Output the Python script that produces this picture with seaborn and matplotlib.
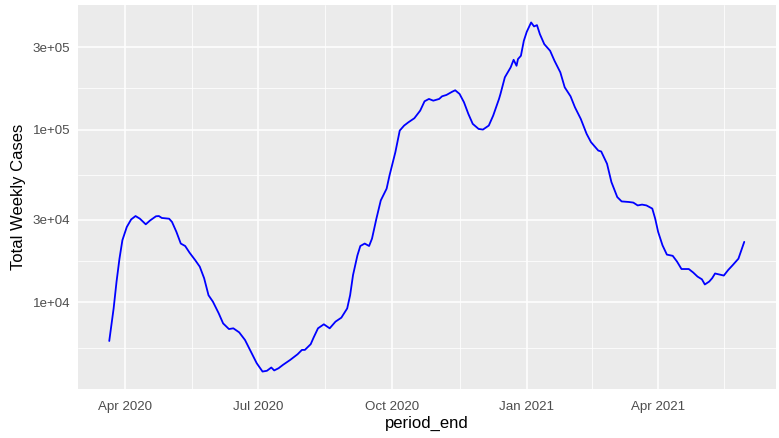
import matplotlib
matplotlib.use("Agg")
import matplotlib.pyplot as plt
import matplotlib.ticker as mticker
import matplotlib.dates as mdates
import numpy as np
import pandas as pd
import seaborn as sns

# Rolling weekly case totals, by reporting period end date
period_end = [
    "2020-03-21", "2020-03-24", "2020-03-26", "2020-03-28", "2020-03-30",
    "2020-04-02", "2020-04-05", "2020-04-08", "2020-04-11", "2020-04-15",
    "2020-04-18", "2020-04-22", "2020-04-24", "2020-04-26", "2020-05-01",
    "2020-05-03", "2020-05-06", "2020-05-09", "2020-05-12", "2020-05-15",
    "2020-05-19", "2020-05-22", "2020-05-25", "2020-05-28", "2020-05-31",
    "2020-06-04", "2020-06-07", "2020-06-11", "2020-06-14", "2020-06-18",
    "2020-06-22", "2020-06-26", "2020-06-30", "2020-07-04", "2020-07-07",
    "2020-07-10", "2020-07-12", "2020-07-15", "2020-07-18", "2020-07-23",
    "2020-07-28", "2020-07-31", "2020-08-02", "2020-08-06", "2020-08-08",
    "2020-08-11", "2020-08-15", "2020-08-19", "2020-08-23", "2020-08-27",
    "2020-08-31", "2020-09-02", "2020-09-04", "2020-09-07", "2020-09-09",
    "2020-09-12", "2020-09-15", "2020-09-17", "2020-09-20", "2020-09-23",
    "2020-09-27", "2020-09-29", "2020-10-03", "2020-10-06", "2020-10-09",
    "2020-10-12", "2020-10-16", "2020-10-20", "2020-10-23", "2020-10-26",
    "2020-10-29", "2020-11-02", "2020-11-04", "2020-11-07", "2020-11-11",
    "2020-11-13", "2020-11-16", "2020-11-19", "2020-11-22", "2020-11-25",
    "2020-11-29", "2020-12-02", "2020-12-06", "2020-12-09", "2020-12-13",
    "2020-12-14", "2020-12-17", "2020-12-21", "2020-12-23", "2020-12-25",
    "2020-12-26", "2020-12-28", "2020-12-30", "2021-01-01", "2021-01-04",
    "2021-01-06", "2021-01-08", "2021-01-10", "2021-01-13", "2021-01-17",
    "2021-01-20", "2021-01-24", "2021-01-27", "2021-01-31", "2021-02-03",
    "2021-02-07", "2021-02-11", "2021-02-14", "2021-02-19", "2021-02-21",
    "2021-02-25", "2021-02-28", "2021-03-04", "2021-03-07", "2021-03-12",
    "2021-03-15", "2021-03-18", "2021-03-21", "2021-03-24", "2021-03-28",
    "2021-03-30", "2021-04-01", "2021-04-04", "2021-04-07", "2021-04-11",
    "2021-04-14", "2021-04-17", "2021-04-22", "2021-04-25", "2021-04-28",
    "2021-05-01", "2021-05-03", "2021-05-06", "2021-05-08", "2021-05-10",
    "2021-05-13", "2021-05-16", "2021-05-19", "2021-05-22", "2021-05-26",
    "2021-05-28", "2021-05-30",
]
weekly_cases = [
    5980, 9230, 13200, 17900, 22900,
    27300, 30200, 31600, 30500, 28300,
    29800, 31500, 31600, 30800, 30500,
    29200, 25600, 21900, 21200, 19400,
    17500, 16100, 13800, 11000, 10100,
    8640, 7560, 7010, 7080, 6710,
    6060, 5190, 4450, 3980, 4020,
    4200, 4040, 4160, 4350, 4650,
    5010, 5310, 5310, 5730, 6260,
    7080, 7470, 7080, 7740, 8160,
    9230, 11000, 14400, 18700, 21200,
    21900, 21200, 23400, 30500, 38900,
    45500, 54300, 74000, 98700, 105500,
    110300, 116300, 128700, 145800, 150400,
    147000, 150400, 155800, 158600, 165700,
    168800, 160700, 143900, 123200, 107900,
    100900, 100000, 105500, 120400, 150400,
    160700, 200600, 229200, 253400, 234000,
    255900, 267300, 326300, 367800, 416700,
    395200, 402100, 356700, 312200, 285700,
    250200, 214400, 175700, 155800, 134700,
    115300, 94500, 84600, 75600, 74700,
    63400, 49700, 40700, 38400, 38100,
    37800, 36400, 36800, 36400, 34900,
    30500, 25600, 21400, 18900, 18600,
    17200, 15600, 15600, 14900, 14100,
    13600, 12700, 13200, 13800, 14700,
    14500, 14300, 15400, 16400, 17900,
    20000, 22400,
]

y_breaks = [1e4, 3e4, 1e5, 3e5]
y_labels = ["1e+04", "3e+04", "1e+05", "3e+05"]
x_breaks = ["2020-04-01", "2020-07-01", "2020-10-01", "2021-01-01", "2021-04-01"]
x_labels = ["Apr 2020", "Jul 2020", "Oct 2020", "Jan 2021", "Apr 2021"]

df = pd.DataFrame({"period_end": pd.to_datetime(period_end),
                   "weekly_cases": weekly_cases})

sns.set_theme(style="darkgrid", rc={
    "axes.facecolor": "#EBEBEB",
    "grid.color": "white",
    "axes.edgecolor": "#EBEBEB",
    "axes.linewidth": 0,
    "figure.facecolor": "white",
})
plt.rcParams["font.family"] = ["Liberation Sans", "DejaVu Sans"]

fig = plt.figure(figsize=(7.79, 4.38), dpi=100)
ax = fig.add_axes([77.5 / 779, 1 - 389 / 438, (776 - 77.5) / 779, (389 - 5) / 438])

sns.lineplot(data=df, x="period_end", y="weekly_cases", color="#0000FF",
             linewidth=1.3, ax=ax, zorder=3)

ax.set_yscale("log")

# ggplot-style 5% expansion of the data range (log space for y)
lo, hi = np.log10(min(weekly_cases)), np.log10(max(weekly_cases))
pad = 0.05 * (hi - lo)
ax.set_ylim(10 ** (lo - pad), 10 ** (hi + pad))

xd = mdates.date2num(df["period_end"])
xpad = 0.05 * (xd.max() - xd.min())
ax.set_xlim(xd.min() - xpad, xd.max() + xpad)

# major breaks and labels
ax.yaxis.set_major_locator(mticker.FixedLocator(y_breaks))
ax.yaxis.set_major_formatter(mticker.FixedFormatter(y_labels))
xb = mdates.date2num(pd.to_datetime(x_breaks))
ax.xaxis.set_major_locator(mticker.FixedLocator(xb))
ax.xaxis.set_major_formatter(mticker.FixedFormatter(x_labels))

# minor grid halfway between major breaks
ylog = np.log10([3e3] + y_breaks + [1e6])
ax.yaxis.set_minor_locator(mticker.FixedLocator(10 ** ((ylog[:-1] + ylog[1:]) / 2)))
xb_ext = np.concatenate([[xb[0] - (xb[1] - xb[0])], xb, [xb[-1] + (xb[-1] - xb[-2])]])
ax.xaxis.set_minor_locator(mticker.FixedLocator((xb_ext[:-1] + xb_ext[1:]) / 2))
ax.yaxis.set_minor_formatter(mticker.NullFormatter())
ax.xaxis.set_minor_formatter(mticker.NullFormatter())

ax.grid(which="major", color="white", linewidth=1.1)
ax.grid(which="minor", color="white", linewidth=0.55)
ax.set_axisbelow(True)
for s in ax.spines.values():
    s.set_visible(False)

ax.tick_params(which="major", length=2.8, width=0.8, color="#333333",
               labelcolor="#4D4D4D", labelsize=9.6)
ax.tick_params(axis="x", which="major", pad=6)
ax.tick_params(axis="y", which="major", pad=2.5)
ax.tick_params(which="minor", length=0)

ax.set_xlabel("period_end", fontsize=12, color="black", labelpad=2)
ax.set_ylabel("Total Weekly Cases", fontsize=12, color="black", labelpad=5)

fig.savefig("out.png", dpi=100)
